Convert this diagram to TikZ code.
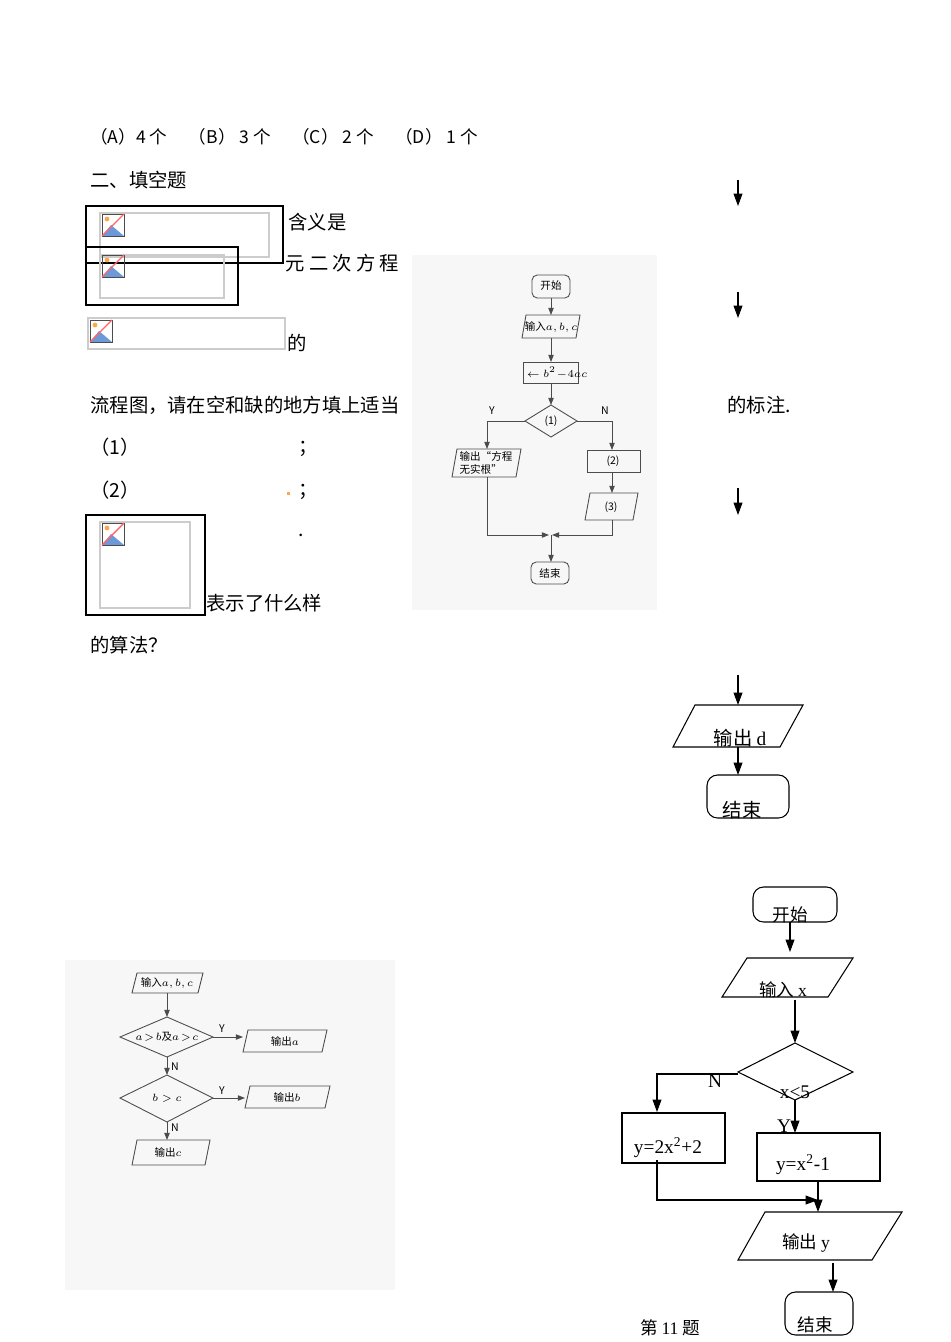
\documentclass[tikz,border=0pt]{standalone}
\usepackage{fontspec}
\setmainfont{Liberation Serif}
\newfontfamily\cjk{Noto Sans CJK SC}
\newcommand{\rl}[1]{{\rmfamily #1}}
\usetikzlibrary{arrows.meta}
\begin{document}
\begin{tikzpicture}[x=0.02cm,y=-0.02cm,
  txt/.style={anchor=west,inner sep=0,font=\cjk\fontsize{11}{13}\selectfont},
  sc/.style={draw=black!70,line width=0.5pt},
  sct/.style={font=\cjk\fontsize{6}{7}\selectfont,inner sep=0},
  fl/.style={draw=black,line width=0.6pt},
  flt/.style={font=\cjk\fontsize{11}{12}\selectfont,inner sep=0},
  arr/.style={fl,-{Triangle[length=7pt,width=5pt]}},
  sarr/.style={sc,-{Triangle[length=4pt,width=3pt]}},
  ph/.style={draw=black!20,line width=0.6pt},
  fr/.style={draw=black,line width=1pt}]
\useasboundingbox (0,0) rectangle (950,1342);
% scanned areas background
\fill[black!3] (412,255) rectangle (657,610);
\fill[black!3] (65,960) rectangle (395,1290);
% top text
\node[txt,font=\cjk\fontsize{10}{12}\selectfont] (t1) at (90,137) {（A）4 个 \quad（B） 3 个 \quad（C） 2 个 \quad（D） 1 个};
\node[txt] (t2) at (90,180) {二、填空题};
% image placeholders
\draw[ph] (100,213) rectangle (269,257);
\draw[fr] (86,206) rectangle (283,263);
\node[txt] (t3) at (288,222) {含义是};
\draw[ph] (100,255) rectangle (224,298);
\draw[fr] (86,247) rectangle (238,305);
\node[txt] (t4) at (285,263) {元 二 次 方 程};
\draw[ph] (88,318) rectangle (285,349);
\node[txt] (t5) at (287,343) {的};
\node[txt] (t6) at (90,405) {流程图，请在空和缺的地方填上适当};
\node[txt] (t7) at (727,405) {的标注.};
\node[txt] (t8) at (90,447) {（1）};
\node[txt] (t9) at (298,449) {；};
\node[txt] (t10) at (90,490) {（2）};
\node[txt] (t11) at (298,492) {；};
\fill[orange!70] (287,492) rectangle (290,495);
\node[txt] (t12) at (298,535) {.};
\draw[ph] (100,522) rectangle (190,608);
\draw[fr] (86,515) rectangle (205,615);
\node[txt] (t13) at (206,603) {表示了什么样};
\node[txt] (t14) at (90,645) {的算法？};
% placeholder icons
\foreach \x/\y in {102/214,102/255,90/320,102/523}{
  \fill[cyan!50!blue!60] (\x,\y+22) -- (\x+9,\y+11) -- (\x+22,\y+22) -- cycle;
  \draw[black!70] (\x,\y) rectangle (\x+22,\y+22);
  \fill[orange!70] (\x+5,\y+5) circle (2.4);
  \draw[red!60,line width=0.8pt] (\x,\y+22) -- (\x+22,\y);
}
% right arrows
\coordinate (a1) at (738,180); \coordinate (a1e) at (738,206);
\coordinate (a2) at (738,292); \coordinate (a2e) at (738,318);
\coordinate (a3) at (738,488); \coordinate (a3e) at (738,515);
\coordinate (a4) at (738,675); \coordinate (a4e) at (738,705);
\draw[arr] (a1) -- (a1e);
\draw[arr] (a2) -- (a2e);
\draw[arr] (a3) -- (a3e);
\draw[arr] (a4) -- (a4e);
\draw[fl] (695,705) -- (803,705) -- (780,747) -- (673,747) -- cycle;
\node[flt] (od) at (740,738) {输出 \rl{d}};
\coordinate (od1) at (738,747); \coordinate (od2) at (738,775);
\draw[arr] (od1) -- (od2);
\draw[fl,rounded corners=6pt] (707,775) rectangle (789,818);
\node[flt] (end1) at (742,810) {结束};
% middle scanned flowchart
\draw[sc,rounded corners=3pt] (532,275) rectangle (570,298);
\node[sct] (m1) at (551,286) {开始};
\draw[sarr] (551,298) -- (551,315);
\draw[sc] (526,315) -- (580,315) -- (576,338) -- (522,338) -- cycle;
\node[sct] (m2) at (551,327) {输入$a,b,c$};
\draw[sarr] (551,338) -- (551,362);
\draw[sc] (523,362) rectangle (578,383);
\node[sct] (m3) at (551,373) {$\mathit{\Delta}\leftarrow b^2\!-\!4ac$};
\draw[sarr] (551,383) -- (551,405);
\draw[sc] (551,405) -- (577,421) -- (551,437) -- (525,421) -- cycle;
\node[sct] (m4) at (551,421) {(1)};
\node[sct] (my) at (492,411) {Y};
\node[sct] (mn) at (605,411) {N};
\draw[sarr] (525,421) -- (487,421) -- (487,449);
\draw[sc] (457,449) -- (521,449) -- (516,477) -- (452,477) -- cycle;
\node[sct,align=left] (m5) at (486,463) {输出“方程\\无实根”};
\draw[sarr] (577,421) -- (612,421) -- (612,450);
\draw[sc] (587,450) rectangle (640,472);
\node[sct] (m6) at (613,461) {(2)};
\draw[sarr] (612,472) -- (612,493);
\draw[sc] (590,493) -- (638,493) -- (633,520) -- (585,520) -- cycle;
\node[sct] (m7) at (611,507) {(3)};
\draw[sarr] (487,477) -- (487,535) -- (549,535);
\draw[sarr] (612,520) -- (612,535) -- (552,535);
\draw[sarr] (551,535) -- (551,562);
\draw[sc,rounded corners=3pt] (531,562) rectangle (569,584);
\node[sct] (m8) at (550,573) {结束};
% bottom-left scanned flowchart
\draw[sc] (137,973) -- (203,973) -- (198,993) -- (132,993) -- cycle;
\node[sct] (b1) at (167,983) {输入$a,b,c$};
\draw[sarr] (167,993) -- (167,1017);
\draw[sc] (167,1017) -- (213,1037) -- (167,1057) -- (120,1037) -- cycle;
\node[sct] (b2) at (167,1037) {$a\!>\!b$及$a\!>\!c$};
\draw[sarr] (213,1037) -- (243,1037);
\node[sct] (by1) at (222,1029) {Y};
\draw[sc] (248,1030) -- (327,1030) -- (322,1052) -- (243,1052) -- cycle;
\node[sct] (b3) at (285,1041) {输出$a$};
\draw[sarr] (167,1057) -- (167,1075);
\node[sct] (bn1) at (175,1067) {N};
\draw[sc] (167,1075) -- (213,1098) -- (167,1122) -- (120,1098) -- cycle;
\node[sct] (b4) at (167,1098) {$b>c$};
\draw[sarr] (213,1098) -- (245,1098);
\node[sct] (by2) at (222,1091) {Y};
\draw[sc] (250,1086) -- (330,1086) -- (325,1108) -- (245,1108) -- cycle;
\node[sct] (b5) at (287,1097) {输出$b$};
\draw[sarr] (167,1122) -- (167,1140);
\node[sct] (bn2) at (175,1128) {N};
\draw[sc] (137,1140) -- (210,1140) -- (205,1165) -- (132,1165) -- cycle;
\node[sct] (b6) at (168,1152) {输出$c$};
% right flowchart
\draw[fl,rounded corners=6pt] (753,887) rectangle (837,922);
\node[flt,font=\cjk\fontsize{10}{12}\selectfont] (r1) at (790,915) {开始};
\draw[arr] (790,922) -- (790,952);
\draw[fl] (747,958) -- (853,958) -- (828,997) -- (722,997) -- cycle;
\node[flt,font=\cjk\fontsize{10}{12}\selectfont] (r2) at (783,990) {输入 \rl{x}};
\draw[arr] (795,1000) -- (795,1043);
\draw[fl] (795,1043) -- (853,1072) -- (795,1100) -- (738,1072) -- cycle;
\node[flt] (r3) at (795,1092) {\rl{x<5}};
\draw[arr] (738,1074) -- (657,1074) -- (657,1112);
\node[flt] (rn) at (715,1081) {\rl{N}};
\draw[fl] (622,1113) rectangle (725,1163);
\node[flt] (r4) at (668,1148) {\rl{y=2x\textsuperscript{2}+2}};
\draw[arr] (795,1100) -- (795,1133);
\node[flt] (ry) at (784,1126) {\rl{Y}};
\draw[fl] (757,1133) rectangle (880,1181);
\node[flt] (r5) at (803,1165) {\rl{y=x\textsuperscript{2}-1}};
\draw[arr] (818,1181) -- (818,1212);
\draw[arr] (657,1160) -- (657,1200) -- (818,1200);
\draw[fl] (765,1212) -- (902,1212) -- (872,1260) -- (738,1260) -- cycle;
\node[flt,font=\cjk\fontsize{10}{12}\selectfont] (r6) at (806,1243) {输出 \rl{y}};
\draw[arr] (833,1263) -- (833,1292);
\draw[fl,rounded corners=6pt] (785,1292) rectangle (853,1335);
\node[flt,font=\cjk\fontsize{10}{12}\selectfont] (r7) at (815,1325) {结束};
\node[flt,font=\cjk\fontsize{10}{12}\selectfont] (r8) at (670,1328) {第 \rl{11} 题};
\end{tikzpicture}
\end{document}
